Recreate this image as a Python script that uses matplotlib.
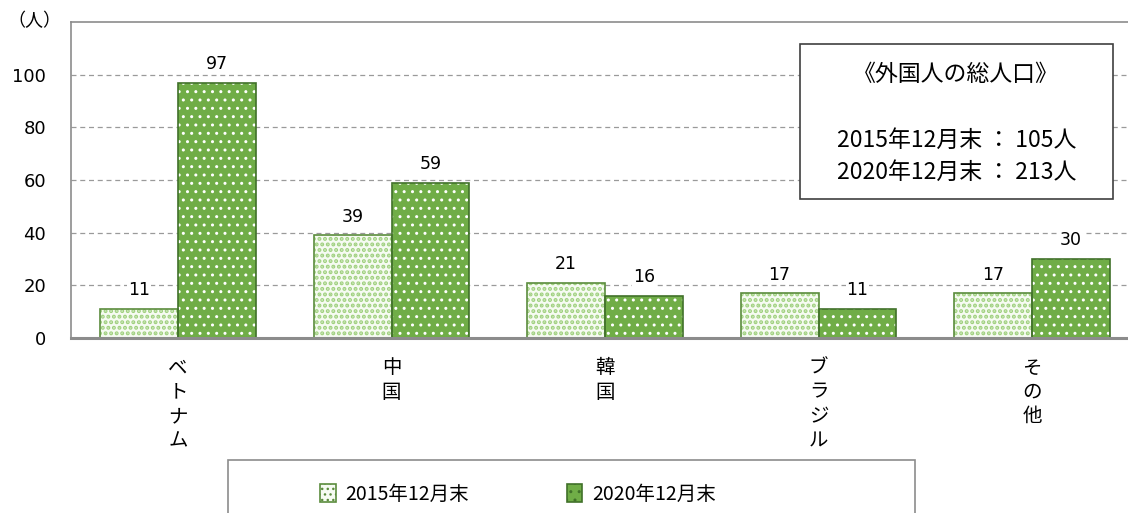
import matplotlib
matplotlib.use("Agg")
import matplotlib.pyplot as plt
from matplotlib.patches import Rectangle, Patch
import numpy as np

plt.rcParams['font.family'] = ['Noto Sans CJK JP', 'DejaVu Sans']

categories = ["ベトナム", "中国", "韓国", "ブラジル", "その他"]
series_names = ["2015年12月末", "2020年12月末"]
values_2015 = [11, 39, 21, 17, 17]
values_2020 = [97, 59, 16, 11, 30]
yticks = [0, 20, 40, 60, 80, 100]
unit_label = "（人）"
box_title = "《外国人の総人口》"
box_lines = ["2015年12月末 ： 105人", "2020年12月末 ： 213人"]

W, H = 1128, 513
fig = plt.figure(figsize=(W / 100, H / 100), dpi=100)

def fx(px):
    return px / W

def fy(py):
    return 1 - py / H

ax_left, ax_right, ax_top, ax_bottom = 71.25, 1138.75, 22, 338
ax = fig.add_axes([fx(ax_left), fy(ax_bottom), fx(ax_right - ax_left), (ax_bottom - ax_top) / H])

x = np.arange(len(categories))
bw = 0.365

light_face = "#f6fbf2"
light_hatch = "#9fd07e"
light_edge = "#5b8c3d"
dark_face = "#70ad47"
dark_hatch = "#ffffff"
dark_edge = "#41712a"

def hatched_bars(xpos, vals, face, hatch, hcolor, edge, hlw):
    ax.bar(xpos, vals, bw, color=face, edgecolor="none", zorder=2)
    plt.rcParams['hatch.linewidth'] = hlw
    ax.bar(xpos, vals, bw, facecolor="none", edgecolor=hcolor, hatch=hatch, linewidth=0, zorder=3)
    ax.bar(xpos, vals, bw, facecolor="none", edgecolor=edge, linewidth=1.2, zorder=4)

hatched_bars(x - bw / 2, values_2015, light_face, "...", light_hatch, light_edge, 2.0)
hatched_bars(x + bw / 2, values_2020, dark_face, "..", dark_hatch, dark_edge, 1.0)

for xs, vals in ((x - bw / 2, values_2015), (x + bw / 2, values_2020)):
    for xi, v in zip(xs, vals):
        ax.annotate(str(v), (xi, v), xytext=(0, 7), textcoords="offset points",
                    ha="center", va="bottom", fontsize=12.5, family="DejaVu Sans",
                    bbox=dict(facecolor="white", edgecolor="none", pad=0.5), zorder=5)

ax.set_xlim(-0.5, len(categories) - 0.5)
ax.set_ylim(0, 120)
ax.set_yticks(yticks)
ax.set_yticklabels([str(t) for t in yticks], family="DejaVu Sans", fontsize=13)
ax.set_xticks(x)
ax.set_xticklabels(["\n".join(c) for c in categories], fontsize=14, linespacing=1.2)
ax.tick_params(axis="x", length=0, pad=14)
ax.tick_params(axis="y", length=0, pad=18)

for t in yticks[1:]:
    ax.axhline(t, color="#9a9a9a", linewidth=0.9, linestyle=(0, (4, 3)), zorder=1)

ax.spines["right"].set_visible(False)
for s in ("left", "top"):
    ax.spines[s].set_color("#8c8c8c")
    ax.spines[s].set_linewidth(1.2)
ax.spines["bottom"].set_color("#8c8c8c")
ax.spines["bottom"].set_linewidth(2.2)
ax.spines["bottom"].set_zorder(6)

fig.text(fx(34), fy(21), unit_label, ha="center", va="center", fontsize=13)

# info box
fig.add_artist(Rectangle((fx(800), fy(199)), fx(1113 - 800), (199 - 44) / H,
                         transform=fig.transFigure, facecolor="white",
                         edgecolor="#404040", linewidth=1.2, zorder=10))
fig.text(fx(956), fy(75), box_title, ha="center", va="center", fontsize=16.5, zorder=11)
fig.text(fx(957), fy(140), box_lines[0], ha="center", va="center", fontsize=16.5, zorder=11)
fig.text(fx(957), fy(172), box_lines[1], ha="center", va="center", fontsize=16.5, zorder=11)

# legend
fig.add_artist(Rectangle((fx(228), fy(540)), fx(915 - 228), (540 - 460) / H,
                         transform=fig.transFigure, facecolor="white",
                         edgecolor="#8c8c8c", linewidth=1.2, clip_on=False))
plt.rcParams['hatch.linewidth'] = 2.0
h1 = Patch(facecolor=light_face, edgecolor=light_edge, hatch="...", linewidth=1.2)
plt.rcParams['hatch.linewidth'] = 1.0
h2 = Patch(facecolor=dark_face, edgecolor=dark_edge, hatch="..", linewidth=1.2)
fig.legend([h1, h2], series_names, loc="center", bbox_to_anchor=(fx(518), fy(494)),
           ncol=2, frameon=False, fontsize=14, handlelength=0.8, handleheight=1.0,
           handletextpad=0.5, columnspacing=5.0)

fig.savefig("out.png", dpi=100)
